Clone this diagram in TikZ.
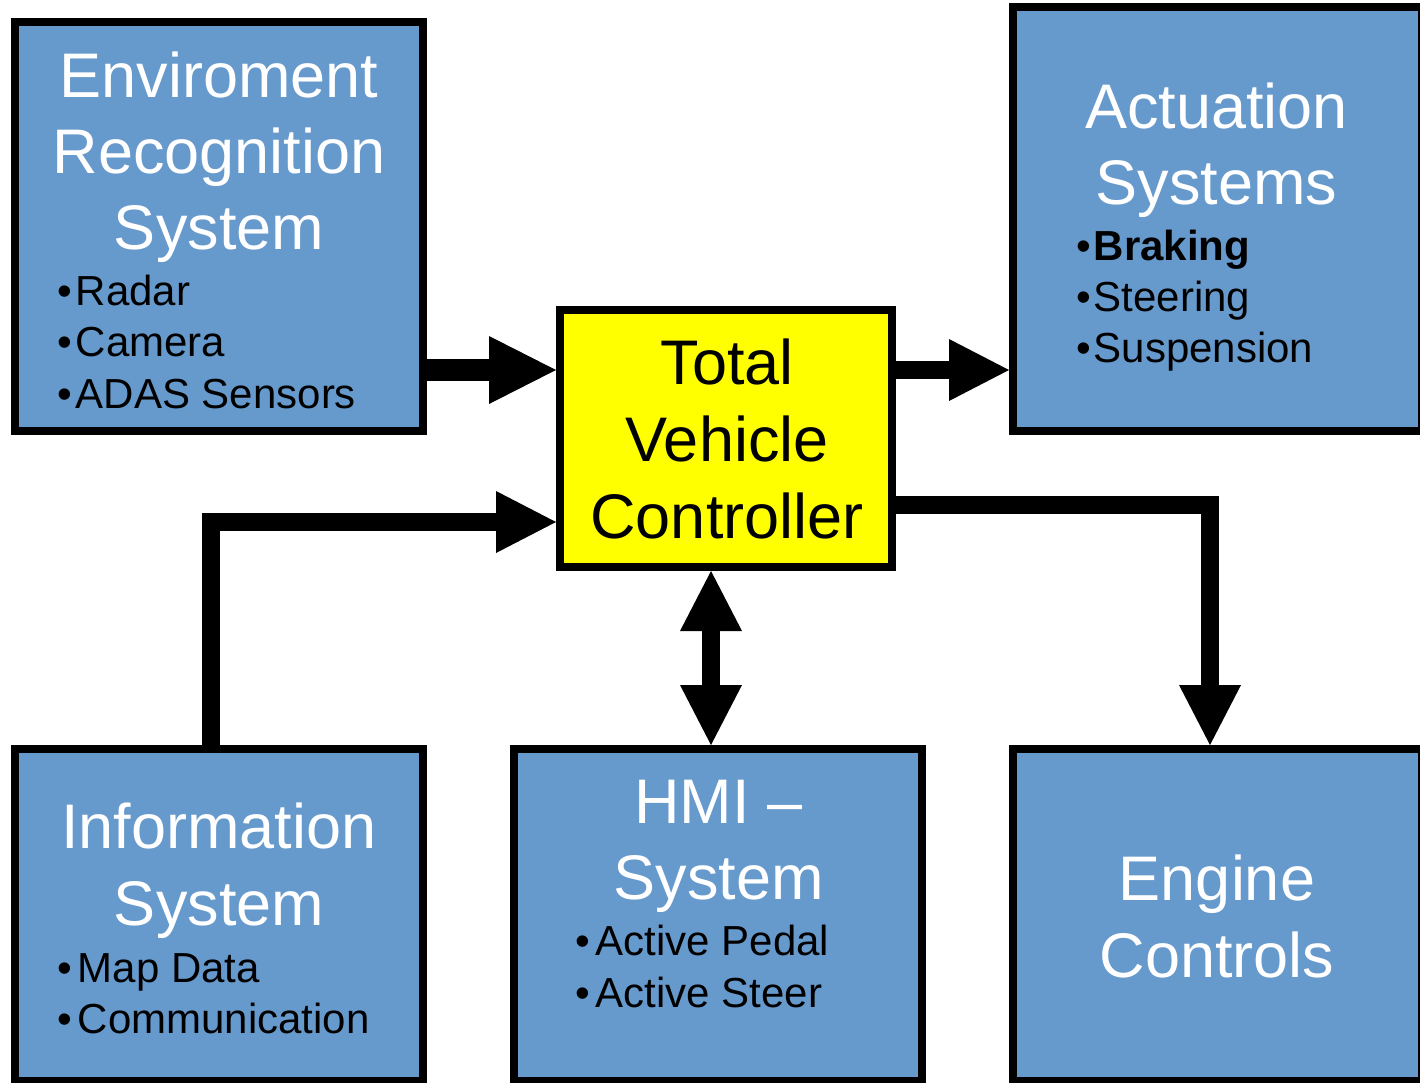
\documentclass[tikz,border=0pt]{standalone}
\usepackage{fontspec}
\setmainfont{Liberation Sans}
\usetikzlibrary{arrows.meta}
\definecolor{boxblue}{RGB}{102,153,204}
\definecolor{tvcyellow}{RGB}{255,255,0}

\tikzset{
  sysbox/.style={draw=black, line width=8pt, fill=boxblue, inner sep=0pt},
  title/.style={text=white, inner sep=0pt, anchor=base, font=\fontsize{63}{76}\selectfont},
  item/.style={text=black, inner sep=0pt, anchor=base west, font=\fontsize{42}{51}\selectfont},
  >={Triangle[width=62pt,length=60pt,line width=0pt]},
  flow/.style={line width=18pt, ->},
  bigflow/.style={line width=22pt, -{Triangle[width=68pt,length=67pt,line width=0pt]}},
}

\begin{document}
\begin{tikzpicture}[x=1pt, y=-1pt]
\useasboundingbox (0,0) rectangle (1420,1082);

% blocks
\node[sysbox, minimum width=408pt, minimum height=409pt] (env) at (219,226.5) {};
\node[sysbox, minimum width=409pt, minimum height=424pt] (act) at (1217.5,219) {};
\node[sysbox, fill=tvcyellow, minimum width=332pt, minimum height=257pt] (tvc) at (726,438.5) {};
\node[sysbox, minimum width=408pt, minimum height=332pt] (info) at (219,915) {};
\node[sysbox, minimum width=408pt, minimum height=332pt] (hmi) at (718,915) {};
\node[sysbox, minimum width=409pt, minimum height=332pt] (eng) at (1217.5,915) {};

% signal flow
\coordinate (upper) at (0,370);
\draw[bigflow] (env.east |- upper) -- (tvc.west |- upper);
\draw[flow] (tvc.east |- upper) -- (act.west |- upper);
\draw[flow] ([xshift=-8pt]info.north) |- ([yshift=-83.5pt]tvc.west);
\draw[flow, <->] ([xshift=-15pt]tvc.south) -- ([xshift=-7pt]hmi.north);
\draw[flow] ([yshift=-66.5pt]tvc.east) -| ([xshift=-7.5pt]eng.north);

% labels
\foreach \txt [count=\i] in {Enviroment, Recognition, System}
  \node[title] (envT\i) at (219,21+76*\i) {\txt};
\foreach \txt [count=\i] in {Radar, Camera, ADAS Sensors}
  \node[item] (envB\i) at (57,253.5+51.5*\i) {•\kern4pt\txt};

\foreach \txt [count=\i] in {Actuation, Systems}
  \node[title] (actT\i) at (1216.5,52+76*\i) {\txt};
\foreach \txt [count=\i] in {\textbf{Braking}, Steering, Suspension}
  \node[item] (actB\i) at (1076,209+51*\i) {•\kern3pt\txt};

\foreach \txt [count=\i] in {Total, Vehicle, Controller}
  \node[title, text=black] (tvcT\i) at (727,307+77*\i) {\txt};

\foreach \txt [count=\i] in {Information, System}
  \node[title] (infoT\i) at (219,771+77*\i) {\txt};
\foreach \txt [count=\i] in {Map Data, Communication}
  \node[item] (infoB\i) at (57,931+51*\i) {•\kern6pt\txt};

\foreach \txt [count=\i] in {HMI –, System}
  \node[title] (hmiT\i) at (718.5,747+76*\i) {\txt};
\foreach \txt [count=\i] in {Active Pedal, Active Steer}
  \node[item] (hmiB\i) at (575,903+52*\i) {•\kern6pt\txt};

\foreach \txt [count=\i] in {Engine, Controls}
  \node[title] (engT\i) at (1217,823+77*\i) {\txt};
\end{tikzpicture}
\end{document}
